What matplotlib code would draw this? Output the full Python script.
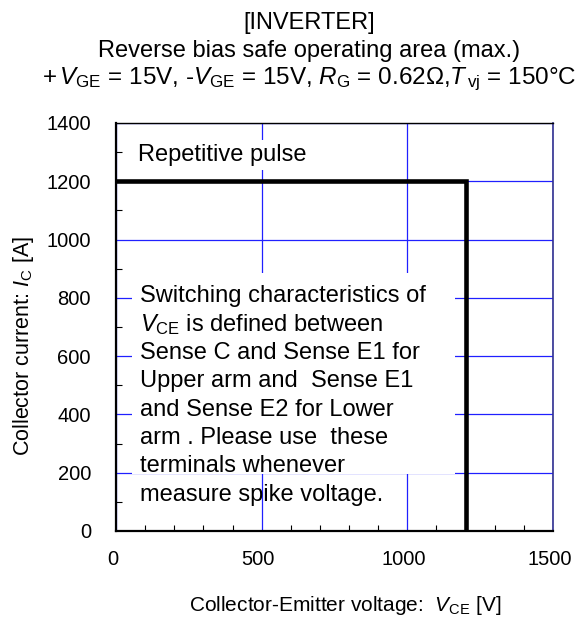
import matplotlib
matplotlib.use("Agg")
import matplotlib.pyplot as plt
from matplotlib.patches import Rectangle
from matplotlib.ticker import MultipleLocator
from matplotlib.transforms import ScaledTranslation

plt.rcParams['font.family'] = ['Liberation Sans', 'DejaVu Sans']
plt.rcParams['mathtext.fontset'] = 'custom'
plt.rcParams['mathtext.rm'] = 'Liberation Sans'
plt.rcParams['mathtext.it'] = 'Liberation Sans:italic'
plt.rcParams['mathtext.bf'] = 'Liberation Sans:bold'

# Data
vce = [0, 1200, 1200]
ic = [1200, 1200, 0]
x_ticks = [0, 500, 1000, 1500]
y_ticks = [0, 200, 400, 600, 800, 1000, 1200, 1400]

title_lines = ["[INVERTER]",
               "Reverse bias safe operating area (max.)",
               r"+$\,V_{\mathrm{GE}}$ = 15V, -$V_{\mathrm{GE}}$ = 15V, $R_{\mathrm{G}}$ = 0.62$\Omega$,$T_{\,\mathrm{vj}}$ = 150°C"]
note_lines = ["Switching characteristics of",
              r"$V_{\mathrm{CE}}$ is defined between",
              "Sense C and Sense E1 for",
              "Upper arm and  Sense E1",
              "and Sense E2 for Lower",
              "arm . Please use  these",
              "terminals whenever",
              "measure spike voltage."]

W, H = 583, 617
fig = plt.figure(figsize=(W / 100, H / 100), dpi=100)
ax = fig.add_axes([116 / W, 1 - 531 / H, (553 - 116) / W, (531 - 123) / H])

ax.set_xlim(0, 1500)
ax.set_ylim(0, 1400)
ax.set_xticks(x_ticks)
ax.set_yticks(y_ticks)
ax.xaxis.set_minor_locator(MultipleLocator(100))
ax.yaxis.set_minor_locator(MultipleLocator(100))
ax.tick_params(which='both', direction='in', top=False, right=False, labelsize=14.5)
ax.tick_params(which='major', length=0)
ax.tick_params(which='minor', length=4, width=0.8)
ax.tick_params(axis='y', pad=18)
ax.tick_params(axis='x', pad=14)
shift = ScaledTranslation(-3.5 / 100, 0, fig.dpi_scale_trans)
for lbl in ax.get_xticklabels():
    lbl.set_transform(lbl.get_transform() + shift)
ax.grid(True, which='major', color='#2020ff', lw=0.9)
ax.set_axisbelow(True)
for s in ['left', 'bottom', 'top']:
    ax.spines[s].set_color('black')
ax.spines['top'].set_linewidth(1.0)
ax.spines['left'].set_linewidth(1.6)
ax.spines['bottom'].set_linewidth(1.6)
ax.spines['right'].set_color('#303090')
ax.spines['right'].set_linewidth(1.2)

# white text box (covers grid)
bx0, bx1 = (132 - 116) / 437, (455 - 116) / 437
by0, by1 = (531 - 474) / 408, (531 - 273) / 408
ax.add_patch(Rectangle((bx0, by0), bx1 - bx0, by1 - by0, transform=ax.transAxes,
                       facecolor='white', edgecolor='none', zorder=1.5))

ax.plot(vce, ic, color='black', lw=3.3, solid_joinstyle='miter', zorder=3)

ax.text((138 - 116) / 437, (531 - 155) / 408, "Repetitive pulse", transform=ax.transAxes,
        fontsize=17, va='center', ha='left', zorder=2,
        bbox=dict(facecolor='white', edgecolor='none', pad=3))

for i, line in enumerate(note_lines):
    y = 296 + i * 28.4
    ax.text((140 - 116) / 437, (531 - y) / 408, line, transform=ax.transAxes,
            fontsize=17, va='center', ha='left', zorder=2)

cx = 309 / W
sizes = [17, 17, 17.5]
for y, t, fs in zip([29, 57, 84], title_lines, sizes):
    fig.text(cx, 1 - y / H, t, ha='center', va='baseline', fontsize=fs)

fig.text(24 / W, 1 - 346 / H, r"Collector current: $I_{\mathrm{C}}$ [A]", rotation=90,
         ha='center', va='center', fontsize=15.5)
fig.text(345 / W, 1 - 611 / H, r"Collector-Emitter voltage:  $V_{\mathrm{CE}}$ [V]",
         ha='center', va='baseline', fontsize=15)

fig.savefig("out.png", dpi=100)
